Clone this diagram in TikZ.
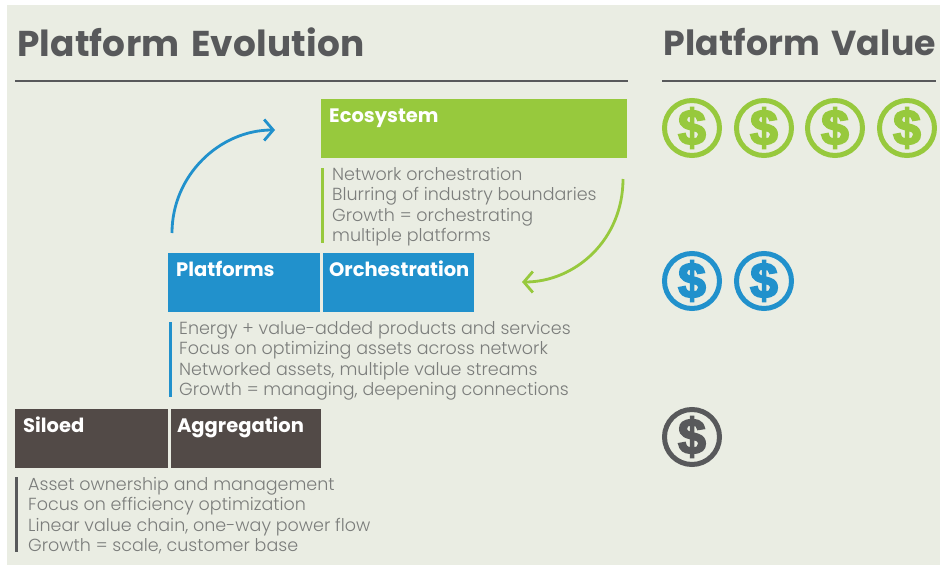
\documentclass[tikz,border=0pt]{standalone}
\usepackage{fontspec}
\setmainfont{Poppins}
\newfontfamily\bodyfont{Poppins Light}
\newfontfamily\titlefont{Poppins}[LetterSpace=0.5,WordSpace=1.5]
\newfontfamily\coinfont{Liberation Sans}[BoldFeatures={FakeBold=3.5}]
\usetikzlibrary{positioning,arrows.meta}
\definecolor{panelbg}{HTML}{EAEDE3}
\definecolor{ecogreen}{HTML}{97C93D}
\definecolor{platblue}{HTML}{2191CC}
\definecolor{silobrown}{HTML}{524A47}
\definecolor{titlegray}{HTML}{58595B}
\definecolor{bodygray}{HTML}{7B7D7B}
\tikzset{
	headbox/.style = {anchor=north west, inner xsep=8pt, inner ysep=0pt, text=white, align=left, font=\bfseries\fontsize{19.5}{22}\selectfont, text height=23pt, text depth=36pt},
	bodytext/.style = {anchor=north west, inner sep=0pt, text=bodygray, align=left, font=\bodyfont\fontsize{17.5}{20.4}\selectfont},
	title/.style = {anchor=west, inner sep=0pt, text=titlegray, font=\titlefont\bfseries\fontsize{35.9}{40}\selectfont},
	rulebar/.style = {line width=3pt},
	swoop/.style = {line width=2.8pt, -{Straight Barb[length=9pt,width=21pt,line width=2.8pt]}},
	coin/.style = {circle, draw=#1, line width=5pt, text=#1, minimum size=55pt, inner sep=0pt, font=\coinfont\bfseries\fontsize{50}{50}\selectfont}
}
\begin{document}
\begin{tikzpicture}[x=1pt, y=-1pt]
	\useasboundingbox (0,0) rectangle (940,565);
	\fill [panelbg] (7,5) rectangle (940,565);
	% titles
	\node [title] (evolution) at (17,42) {Platform Evolution};
	\node [title, font=\titlefont\bfseries\fontsize{34.7}{40}\selectfont] (value) at (663,42) {Platform Value};
	\coordinate (evoL) at (15,81);
	\coordinate (evoR) at (628,81);
	\coordinate (valL) at (662,81);
	\coordinate (valR) at (936,81);
	\draw [titlegray, line width=1.4pt] (evoL) -- (evoR);
	\draw [titlegray, line width=1.4pt] (valL) -- (valR);
	% ecosystem
	\node [headbox, fill=ecogreen, text width=290pt] (ecosystem) at (321,99) {Ecosystem};
	\node [bodytext] (ecotext) at (332,167) {Network orchestration\\Blurring of industry boundaries\\Growth = orchestrating\\multiple platforms};
	\coordinate (ecobarT) at (322.5,168);
	\coordinate (ecobarB) at (322.5,243);
	\draw [rulebar, ecogreen] (ecobarT) -- (ecobarB);
	% platforms
	\node [headbox, fill=platblue, text width=136pt] (platforms) at (168,253) {Platforms};
	\node [headbox, fill=platblue, inner xsep=6pt, text width=139pt, right=2.5pt of platforms.north east, anchor=north west] (orchestration) {Orchestration};
	\node [bodytext] (plattext) at (179,321) {Energy + value-added products and services\\Focus on optimizing assets across network\\Networked assets, multiple value streams\\Growth = managing, deepening connections};
	\coordinate (platbarT) at (170.5,322);
	\coordinate (platbarB) at (170.5,397);
	\draw [rulebar, platblue] (platbarT) -- (platbarB);
	% siloed
	\node [headbox, fill=silobrown, text width=137pt] (siloed) at (15,409) {Siloed};
	\node [headbox, fill=silobrown, inner xsep=6pt, text width=138pt, right=2.5pt of siloed.north east, anchor=north west] (aggregation) {Aggregation};
	\node [bodytext] (silotext) at (28,477) {Asset ownership and management\\Focus on efficiency optimization\\Linear value chain, one-way power flow\\Growth = scale, customer base};
	\coordinate (silobarT) at (16.5,477);
	\coordinate (silobarB) at (16.5,552);
	\draw [rulebar, titlegray] (silobarT) -- (silobarB);
	% arrows
	\coordinate (upS) at (172,233);
	\coordinate (upE) at (275,130);
	\coordinate (downS) at (623,179);
	\coordinate (downE) at (522,282);
	\draw [swoop, platblue] (upS) .. controls (172,175) and (220,130) .. (upE);
	\draw [swoop, ecogreen] (downS) .. controls (623,240) and (575,282) .. (downE);
	% dollars
	\foreach \x/\n in {692/1,764/2,835/3,907/4}
		\node [coin=ecogreen] (eco\n) at (\x,128) {\$};
	\foreach \x/\n in {692/1,764/2}
		\node [coin=platblue] (plat\n) at (\x,281) {\$};
	\node [coin=titlegray] (silo1) at (692,437) {\$};
\end{tikzpicture}
\end{document}
